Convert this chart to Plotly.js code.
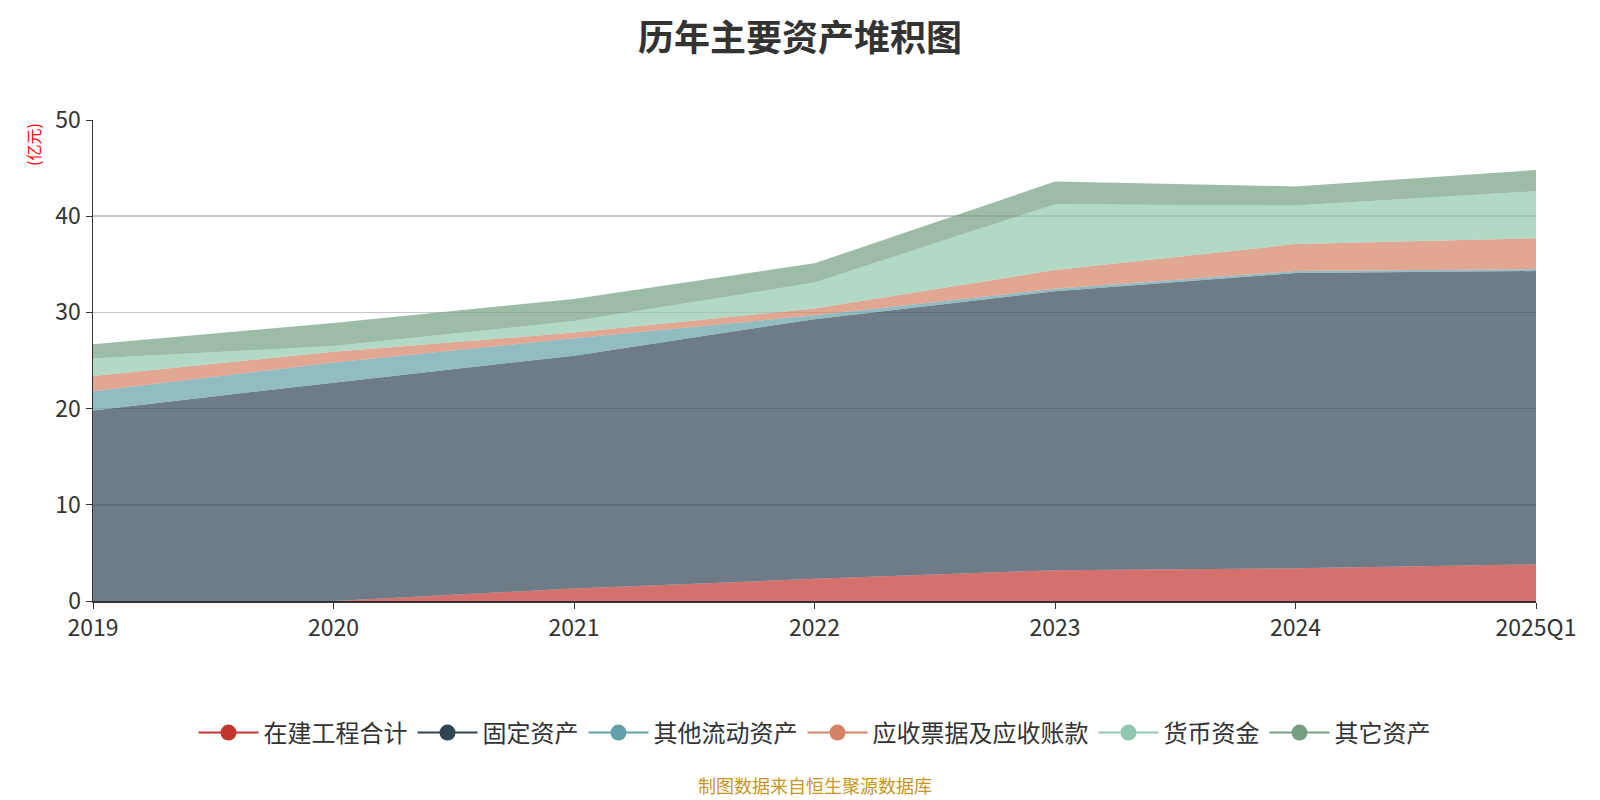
<!DOCTYPE html>
<html>
<head>
<meta charset="utf-8">
<script src="https://cdn.plot.ly/plotly-3.0.1.min.js"></script>
<style>html,body{margin:0;padding:0;background:#fff;}#chart{width:1600px;height:800px;}</style>
</head>
<body>
<div id="chart"></div>
<script>
const categories = ["2019", "2020", "2021", "2022", "2023", "2024", "2025Q1"];
const seriesNames = ["在建工程合计", "固定资产", "其他流动资产", "应收票据及应收账款", "货币资金", "其它资产"];
const zaijian = [0, 0, 1.3, 2.3, 3.2, 3.4, 3.8];
const guding = [19.8, 22.7, 24.2, 27.0, 29.0, 30.7, 30.5];
const qitaLiudong = [2.0, 2.1, 1.8, 0.4, 0.25, 0.2, 0.2];
const yingshou = [1.6, 1.1, 0.6, 0.7, 1.95, 2.8, 3.2];
const huobi = [1.8, 0.6, 1.2, 2.7, 6.85, 4.0, 4.9];
const qitaZichan = [1.5, 2.4, 2.3, 2.0, 2.35, 2.0, 2.2];
const yTicks = [0, 10, 20, 30, 40, 50];

const seriesValues = [zaijian, guding, qitaLiudong, yingshou, huobi, qitaZichan];
const colors = ["#c23531", "#2f4554", "#61a0a8", "#d48265", "#91c7ae", "#749f83"];
function rgba(hex, a) {
  const r = parseInt(hex.slice(1,3),16), g = parseInt(hex.slice(3,5),16), b = parseInt(hex.slice(5,7),16);
  return `rgba(${r},${g},${b},${a})`;
}
const traces = [];
seriesValues.forEach((vals, i) => {
  traces.push({
    type: 'scatter', mode: 'lines', x: categories, y: vals, name: seriesNames[i],
    stackgroup: 'one', line: {width: 0, color: colors[i]}, fillcolor: rgba(colors[i], 0.7),
    showlegend: false, hoverinfo: 'x+y+name'
  });
});
seriesValues.forEach((vals, i) => {
  traces.push({
    type: 'scatter', mode: 'lines+markers', x: [null], y: [null], name: seriesNames[i],
    line: {width: 2, color: colors[i]}, marker: {size: 24, color: colors[i]}, showlegend: true
  });
});

const font = '"Noto Sans CJK SC", "Noto Sans", sans-serif';
const layout = {
  width: 1600, height: 800,
  margin: {l: 93, r: 64, t: 120, b: 199},
  paper_bgcolor: '#fff', plot_bgcolor: '#fff',
  font: {family: font, color: '#333'},
  title: {text: '<b>历年主要资产堆积图</b>', x: 0.5, xanchor: 'center', y: 0.968, yanchor: 'top', font: {size: 36, color: '#333', family: font}},
  xaxis: {
    type: 'category', range: [0, 6], showgrid: false, showline: true, linecolor: '#333', linewidth: 1.5,
    ticks: 'outside', ticklen: 6, tickcolor: '#333', tickfont: {size: 23, color: '#333'}, zeroline: false
  },
  yaxis: {
    range: [0, 50], tickvals: yTicks, showgrid: true, gridcolor: '#c8c8c8', gridwidth: 1.5,
    showline: true, linecolor: '#333', linewidth: 1.5, ticks: 'outside', ticklen: 6, tickcolor: '#333',
    tickfont: {size: 23, color: '#333'}, zeroline: false
  },
  legend: {
    orientation: 'h', traceorder: 'normal', x: 0.5, xanchor: 'center', y: -0.2744, yanchor: 'middle',
    font: {size: 24, color: '#333'}, itemwidth: 60
  },
  annotations: [
    {text: '(亿元)', xref: 'paper', yref: 'paper', x: -0.0416, y: 0.95, xanchor: 'center', yanchor: 'middle', textangle: -90, showarrow: false, font: {size: 16, color: '#ff0000', family: font}},
    {text: '制图数据来自恒生聚源数据库', xref: 'paper', yref: 'paper', x: 0.5, y: -0.382, xanchor: 'center', yanchor: 'middle', showarrow: false, font: {size: 18, color: '#c8961e', family: font}}
  ]
};
Plotly.newPlot('chart', traces, layout, {displayModeBar: false, staticPlot: true});
</script>
</body>
</html>
